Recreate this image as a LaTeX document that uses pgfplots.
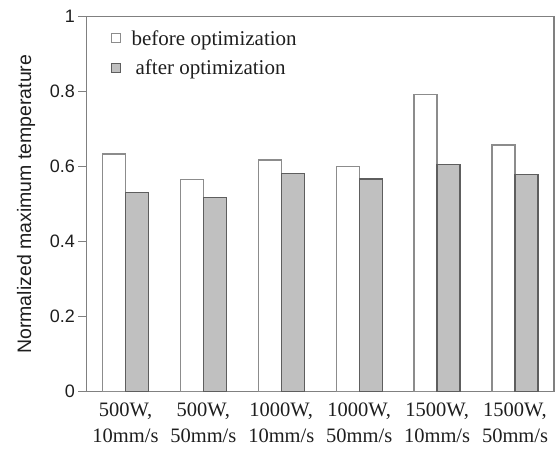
\documentclass[border=0pt]{standalone}
\usepackage{pgfplots}
\pgfplotsset{compat=1.18}
\usepackage{fontspec}
\setmainfont{Liberation Serif}
\setsansfont{Liberation Sans}

\definecolor{spine}{HTML}{808080}
\definecolor{baredge}{HTML}{8C8C8C}
\definecolor{grayfill}{HTML}{C0C0C0}
\definecolor{grayedge}{HTML}{5E5E5E}
\definecolor{txt}{HTML}{1E1E1E}

% normalized maximum temperature per process setting
\pgfplotstableread{
idx before after
0   0.634  0.532
1   0.566  0.518
2   0.618  0.581
3   0.601  0.567
4   0.793  0.606
5   0.658  0.580
}\tempdata

\begin{document}
\begin{tikzpicture}
\useasboundingbox (-86.5pt,-58.3pt) rectangle (468.5pt,391.7pt);
\begin{axis}[
  at={(0pt,0pt)}, anchor=south west,
  scale only axis,
  width=467.5pt, height=375pt,
  xmin=-0.5, xmax=5.5,
  ymin=0, ymax=1,
  ytick={0,0.2,...,1},
  xtick={0,...,5},
  xticklabels={{500W,\\10mm/s},{500W,\\50mm/s},{1000W,\\10mm/s},{1000W,\\50mm/s},{1500W,\\10mm/s},{1500W,\\50mm/s}},
  x tick label style={font=\fontsize{20.5}{26}\selectfont, align=center, text=txt, yshift=0pt},
  xtick style={draw=none},
  extra x ticks={-0.5,0.5,1.5,2.5,3.5,4.5,5.5},
  extra x tick labels={},
  extra x tick style={tick style={draw=spine, line width=1.2pt}, major tick length=7pt},
  y tick label style={font=\sffamily\fontsize{18}{18}\selectfont, text=txt},
  /pgf/number format/assume math mode=true,
  ytick style={draw=spine, line width=1.2pt},
  major tick length=8pt,
  tick align=outside,
  tick pos=left,
  axis line style={draw=spine, line width=1.3pt},
  ylabel={Normalized maximum temperature},
  ylabel style={font=\sffamily\fontsize{19.5}{19.5}\selectfont, text=txt, yshift=8pt},
  ybar=0pt,
  bar width=0.295,
  legend style={at={(0.045,0.975)}, anchor=north west, draw=none, fill=none,
    font=\fontsize{21}{21}\selectfont, text=txt, row sep=9pt,
    /tikz/every odd column/.append style={column sep=9pt}},
  legend cell align=left,
]
\addplot[draw=baredge, fill=white, line width=1.3pt, bar shift=-0.1475,
  legend image code/.code={\draw[draw=baredge, fill=white, line width=0.9pt] (0pt,-4.5pt) rectangle (9pt,4.5pt);}]
  table[x=idx, y=before] {\tempdata};
\addlegendentry{before optimization}
\addplot[draw=grayedge, fill=grayfill, line width=1.3pt, bar shift=0.1475,
  legend image code/.code={\draw[draw=grayedge, fill=grayfill, line width=0.9pt] (0pt,-4.5pt) rectangle (9pt,4.5pt);}]
  table[x=idx, y=after] {\tempdata};
\addlegendentry{\hspace*{4pt}after optimization}
\end{axis}
\end{tikzpicture}
\end{document}
